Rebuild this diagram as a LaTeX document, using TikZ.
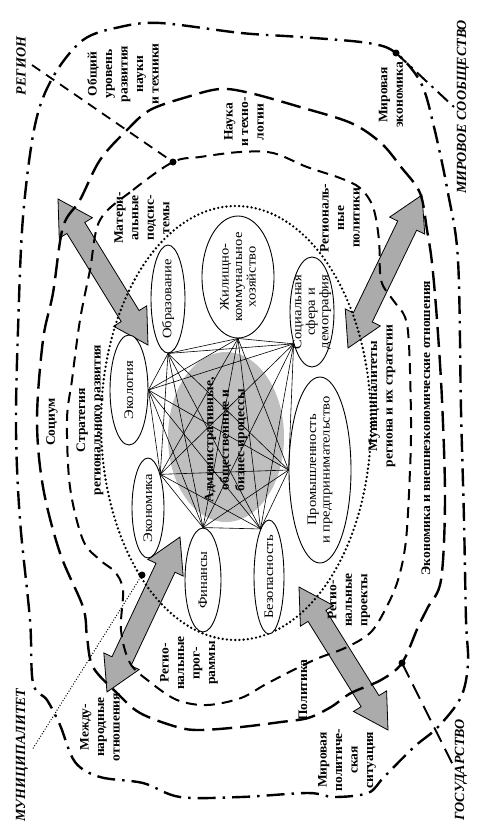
\documentclass[tikz,border=0pt]{standalone}
\usepackage{fontspec}
\setmainfont{Liberation Serif}
\usetikzlibrary{calc,shapes.geometric}
\newcommand\blockarr[2]{%
  \coordinate (#1-h) at ($(#1)!34pt!(#2)$);
  \coordinate (#2-h) at ($(#2)!34pt!(#1)$);
  \filldraw[blockarrow] (#1)
    -- ($(#1-h)!19.5pt!90:(#2)$) -- ($(#1-h)!10.5pt!90:(#2)$)
    -- ($(#2-h)!10.5pt!-90:(#1)$) -- ($(#2-h)!19.5pt!-90:(#1)$)
    -- (#2)
    -- ($(#2-h)!19.5pt!90:(#1)$) -- ($(#2-h)!10.5pt!90:(#1)$)
    -- ($(#1-h)!10.5pt!-90:(#2)$) -- ($(#1-h)!19.5pt!-90:(#2)$)
    -- cycle;}
\begin{document}
\begin{tikzpicture}[x=1pt,y=-1pt,
  lbl/.style={font=\bfseries\fontsize{13}{15.5}\selectfont, rotate=90, xscale=1.04, align=center, inner sep=0pt},
  biglbl/.style={font=\bfseries\itshape\fontsize{14}{16}\selectfont, rotate=90, inner sep=0pt},
  ellshape/.style={ellipse, draw, line width=0.9pt, fill=white, rotate=90, inner sep=0pt},
  elltext/.style={rotate=90, xscale=1.12, align=center, inner sep=0pt, font=\fontsize{13}{13.5}\selectfont},
  worldline/.style={line width=2.4pt, dash pattern=on 18pt off 7pt on 2.5pt off 7pt},
  stateline/.style={line width=2.4pt, dash pattern=on 20pt off 8pt},
  regline/.style={line width=2pt, dash pattern=on 11pt off 7pt},
  munline/.style={line width=2.6pt, line cap=round, dash pattern=on 0pt off 4.2pt},
  munptr/.style={line width=1.4pt, line cap=round, dash pattern=on 0pt off 2.8pt},
  link/.style={line width=0.6pt},
  blockarrow/.style={draw=black, line width=0.8pt, fill=black!33, line join=miter},
  dotmark/.style={circle, fill=black, inner sep=0pt, minimum size=7pt},
]
\useasboundingbox (0,0) rectangle (482,835);
\fill[white] (0,0) rectangle (482,835);

% block arrows
\coordinate (a1s) at (58,199);  \coordinate (a1e) at (148,345);
\coordinate (a2s) at (348,348); \coordinate (a2e) at (422,195);
\coordinate (a3s) at (107,692); \coordinate (a3e) at (180,537);
\coordinate (a4s) at (299,587); \coordinate (a4e) at (388,730);
\blockarr{a1s}{a1e}
\blockarr{a2s}{a2e}
\blockarr{a3s}{a3e}
\blockarr{a4s}{a4e}

% world community (outer dash-dot)
\draw[worldline] plot[smooth cycle, tension=0.55] coordinates {
 (160,23) (241,33) (300,37) (368,43) (396,53) (421,83) (434,127) (448,193)
 (458,260) (461,410) (464,520) (466,620) (468,663) (461,697) (438,727)
 (414,747) (384,777) (368,793) (334,797) (308,793) (241,797) (180,797)
 (143,783) (100,777) (75,762) (60,725) (47,700) (33,683) (30,620)
 (20,520) (16,430) (18,330) (23,217) (35,125) (53,77) (83,40) (120,27)};

% state (long dash)
\draw[stateline] plot[smooth cycle, tension=0.55] coordinates {
 (63,227) (80,200) (100,160) (127,130) (150,110) (187,97) (220,89) (250,93)
 (300,107) (351,123) (381,143) (401,167) (420,193) (427,230) (432,263)
 (437,320) (442,400) (445,500) (441,580) (428,607) (418,627) (402,663)
 (381,680) (351,693) (331,707) (308,718) (281,722) (241,727) (200,730)
 (177,727) (140,713) (117,693) (93,667) (87,637) (83,607) (60,553)
 (43,487) (37,420) (43,340) (53,293)};

% region (short dash)
\draw[regline] plot[smooth cycle, tension=0.55] coordinates {
 (100,220) (133,190) (173,162) (200,157) (240,152) (273,153) (307,167)
 (340,178) (360,188) (373,207) (379,240) (381,280) (393,300) (405,317)
 (409,345) (411,420) (410,470) (406,540) (398,580) (385,610) (370,633)
 (345,648) (314,660) (268,683) (241,698) (207,705) (177,700) (150,682)
 (130,663) (121,630) (123,590) (115,572) (100,560) (83,540) (70,487)
 (67,420) (72,380) (80,320) (90,270)};

% municipality (dotted ellipse)
\draw[munline] (236,423) ellipse [x radius=135pt, y radius=217pt];

% core
\node[ellipse, fill=black!25, minimum width=116pt, minimum height=170pt, inner sep=0pt] (core) at (226,437) {};
\node[lbl] (coretext) at (226,440) {Административные,\\общественные и\\бизнес-процессы};

% subsystem ellipses
\node[ellshape, minimum width=110pt, minimum height=38pt] (ekol) at (129,390) {};
\node[ellshape, minimum width=100pt, minimum height=32pt] (ekon) at (148,508) {};
\node[ellshape, minimum width=108pt, minimum height=34pt] (obr) at (168,299) {};
\node[ellshape, minimum width=122pt, minimum height=72pt] (zhil) at (238,277) {};
\node[ellshape, minimum width=110pt, minimum height=44pt] (soc) at (312,312) {};
\node[ellshape, minimum width=186pt, minimum height=62pt] (prom) at (320,470) {};
\node[ellshape, minimum width=114pt, minimum height=30pt] (bez) at (269,577) {};
\node[ellshape, minimum width=104pt, minimum height=36pt] (fin) at (203,580) {};

\coordinate (c1) at (ekol.south);
\coordinate (c2) at (obr.west);
\coordinate (c3) at (zhil.west);
\coordinate (c4) at (soc.150);
\coordinate (c5) at (prom.north);
\coordinate (c6) at (bez.10);
\coordinate (c7) at (fin.east);
\coordinate (c8) at (ekon.340);
\foreach \i in {1,...,7}{
  \pgfmathtruncatemacro\jstart{\i+1}
  \foreach \j in {\jstart,...,8}{\draw[link] (c\i) -- (c\j);}
}

\node[elltext] (ekolt) at (ekol) {Экология};
\node[elltext] (ekont) at (ekon) {Экономика};
\node[elltext] (obrt) at (obr) {Образование};
\node[elltext] (zhilt) at (zhil) {Жилищно-\\коммунальное\\хозяйство};
\node[elltext] (soct) at (soc) {Социальная\\сфера и\\демография};
\node[elltext] (promt) at (prom) {Промышленность\\и предпринимательство};
\node[elltext] (bezt) at (bez) {Безопасность};
\node[elltext] (fint) at (fin) {Финансы};

% labels
\node[lbl] (l1) at (123,74) {Общий\\уровень\\развития\\науки\\и техники};
\node[lbl] (l2) at (244,122) {Наука\\и техно-\\логии};
\node[lbl] (l3) at (391,95) {Мировая\\экономика};
\node[lbl] (l4) at (142,218) {Матери-\\альные\\подсис-\\темы};
\node[lbl] (l5) at (340,218) {Региональ-\\ные\\политики};
\node[lbl] (l6) at (52,422) {Социум};
\node[lbl] (l7) at (90,420) {Стратегия\\регионального развития};
\node[lbl] (l8) at (382,396) {Муниципалитеты\\региона и их стратегии};
\node[lbl] (l9) at (426,428) {Экономика и внешнеэкономические отношения};
\node[lbl] (l10) at (349,600) {Регио-\\нальные\\проекты};
\node[lbl] (l11) at (303,690) {Политика};
\node[lbl] (l12) at (347,760) {Мировая\\политиче-\\ская\\ситуация};
\node[lbl] (l13) at (189,663) {Регио-\\нальные\\прог-\\раммы};
\node[lbl] (l14) at (100,727) {Между-\\народные\\отношения};

% outer labels and pointers
\node[biglbl] (regl) at (21,66) {РЕГИОН};
\node[biglbl] (worldl) at (463,107) {МИРОВОЕ СООБЩЕСТВО};
\node[biglbl] (statel) at (461,770) {ГОСУДАРСТВО};
\node[biglbl] (munl) at (22,755) {МУНИЦИПАЛИТЕТ};

\node[dotmark] (regdot) at (173,162) {};
\node[dotmark] (worlddot) at (396,53) {};
\node[dotmark] (statedot) at (402,663) {};
\node[dotmark] (mundot) at (142,575) {};
\coordinate (regp) at (32,65);
\coordinate (worldp) at (454,107);
\coordinate (statep) at (453,765);
\coordinate (munp) at (32,750);
\draw[line width=1.8pt, dash pattern=on 10pt off 7pt] (regp) -- (regdot.center);
\draw[line width=2pt, dash pattern=on 14pt off 6pt on 2.5pt off 6pt] (worlddot.center) -- (worldp);
\draw[line width=2pt, dash pattern=on 16pt off 8pt] (statedot.center) -- (statep);
\draw[munptr] (mundot.center) -- (munp);
\end{tikzpicture}
\end{document}
